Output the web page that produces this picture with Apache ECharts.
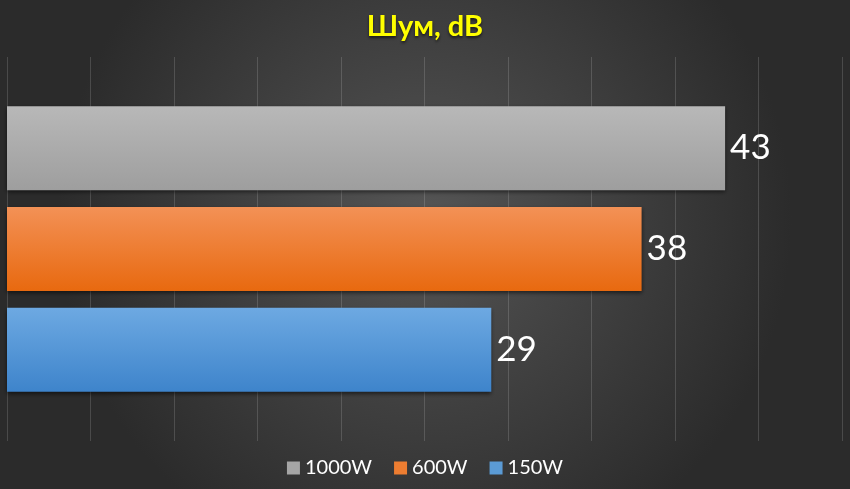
<!DOCTYPE html>
<html>
<head>
<meta charset="utf-8">
<script src="https://cdn.jsdelivr.net/npm/echarts@6/dist/echarts.min.js"></script>
<style>
  html, body { margin: 0; padding: 0; background: #3a3a3a; }
  #chart { width: 850px; height: 489px; }
</style>
</head>
<body>
<div id="chart"></div>
<script>
const titleText = 'Шум, dB';
const categories = [''];
const seriesNames = ['1000W', '600W', '150W'];
const seriesValues = [[43], [38], [29]];

const fontFamily = 'Lato, "Noto Sans", sans-serif';
const barColors = [
  ['#b8b8b8', '#9e9e9e'],
  ['#f39156', '#e8690f'],
  ['#6da9e2', '#3e84cb'],
];
const legendColors = ['#a5a5a5', '#ed7d31', '#5b9bd5'];

const chart = echarts.init(document.getElementById('chart'));

const series = seriesNames.map((name, i) => ({
  name: name,
  type: 'bar',
  data: seriesValues[i],
  barWidth: 84,
  barGap: '20%',
  itemStyle: {
    color: new echarts.graphic.LinearGradient(0, 0, 0, 1, [
      { offset: 0, color: barColors[i][0] },
      { offset: 1, color: barColors[i][1] },
    ]),
    shadowColor: 'rgba(0,0,0,0.55)',
    shadowBlur: 4,
    shadowOffsetY: 2,
  },
  label: {
    show: true,
    position: 'right',
    distance: 5,
    color: '#ffffff',
    fontSize: 35,
    fontFamily: fontFamily,
  },
}));

const option = {
  backgroundColor: new echarts.graphic.RadialGradient(0.5, 0.45, 0.75, [
    { offset: 0, color: '#555555' },
    { offset: 1, color: '#2b2b2b' },
  ]),
  title: {
    text: titleText,
    left: 'center',
    top: 7,
    textStyle: {
      color: '#ffff00',
      fontSize: 29,
      fontWeight: 'bold',
      fontFamily: fontFamily,
      textShadowColor: 'rgba(0,0,0,0.6)',
      textShadowBlur: 3,
      textShadowOffsetY: 2,
    },
  },
  legend: {
    data: seriesNames.map((n, i) => ({ name: n, itemStyle: { color: legendColors[i] } })),
    bottom: 6,
    left: 'center',
    itemWidth: 13,
    itemHeight: 13,
    itemGap: 22,
    icon: 'rect',
    textStyle: { color: '#ffffff', fontSize: 20, fontFamily: fontFamily },
  },
  grid: { left: 7, right: 8, top: 57, bottom: 48, containLabel: false },
  xAxis: {
    type: 'value',
    min: 0,
    max: 50,
    interval: 5,
    axisLabel: { show: false },
    axisLine: { show: false },
    axisTick: { show: false },
    splitLine: { lineStyle: { color: 'rgba(255,255,255,0.15)', width: 1 } },
  },
  yAxis: {
    type: 'category',
    data: categories,
    inverse: true,
    axisLabel: { show: false },
    axisLine: { show: false },
    axisTick: { show: false },
  },
  series: series,
};

chart.setOption(option);
</script>
</body>
</html>
